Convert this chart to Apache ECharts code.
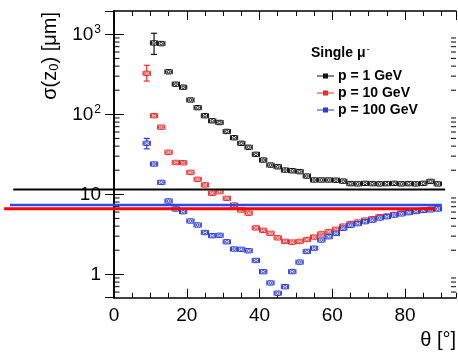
<!DOCTYPE html>
<html><head><meta charset="utf-8">
<script src="https://cdn.jsdelivr.net/npm/echarts@6/dist/echarts.min.js"></script>
<style>html,body{margin:0;padding:0;background:#fff}#c{width:458px;height:353px}</style>
</head><body><div id="c"></div>
<script>
// ---- data ----
const thetaBlack = [11,13,15,17,19,21,23,25,27,29,31,33,35,37,39,41,43,45,47,49,51,53,55,57,59,61,63,65,67,69,71,73,75,77,79,81,83,85,87,89];
const thetaColor = [9,11,13,15,17,19,21,23,25,27,29,31,33,35,37,39,41,43,45,47,49,51,53,55,57,59,61,63,65,67,69,71,73,75,77,79,81,83,85,87,89];
const black1GeV = [780,765,340,238,218,151,121,96,83,79,61,51,43.4,38.7,31.6,26.8,23.2,22.1,20.1,19.7,19.2,16.9,15.1,15.1,15.1,15.0,14.6,13.6,13.5,13.7,13.6,13.5,13.6,13.7,13.5,13.6,13.5,13.7,14.5,13.5];
const red10GeV = [325,96,69,33.5,25,24.8,18.8,15.4,13.1,10.3,10.8,8.9,7.35,6.36,5.8,3.8,3.55,3.25,2.86,2.58,2.52,2.58,2.72,2.92,3.2,3.4,3.65,4.0,4.3,4.5,4.75,4.95,5.25,5.35,5.6,5.85,6.0,6.2,6.35,6.5,6.65];
const blue100GeV = [43.4,23.9,14.1,8.25,6.55,6.06,4.64,4.13,3.33,3.04,3.07,2.55,2.07,2.05,1.97,1.49,1.08,0.78,0.58,0.70,1.08,1.42,1.93,2.12,2.68,2.95,3.25,3.76,4.1,4.3,4.55,4.75,5.05,5.25,5.5,5.7,5.9,6.1,6.3,6.4,6.55];
// vertical error bar [low, high] of the first point of each series
const blackFirstErr = [560, 1030];
const redFirstErr = [260, 410];
const blueFirstErr = [37, 50];
// horizontal reference lines drawn over the figure: [y level, theta start, theta end]
const lineBlack = [11.5, -27.7, 91.0];
const lineBlue = [7.35, -28.6, 90.1];
const lineRed = [6.6, -30.2, 88.2];
const seriesNames = ['p = 1 GeV', 'p = 10 GeV', 'p = 100 GeV'];
const xTicks = [0, 20, 40, 60, 80];
const yMinorTicks = [0.6,0.7,0.8,0.9,2,3,4,5,6,7,8,9,20,30,40,50,60,70,80,90,200,300,400,500,600,700,800,900];

const COL = ['#111111', '#ee2b2b', '#2b3bd6'];
const XMIN = 0, XMAX = 94, YMIN = 0.51, YMAX = 1955;
const G = {left: 114, right: 2, top: 11, bottom: 55.3};
const pxPerDeg = (458 - G.left - G.right) / (XMAX - XMIN);

function build(theta, vals, err) {
  return theta.map((t, i) => i === 0 ? [t, vals[i], err[0], err[1]] : [t, vals[i], null, null]);
}
function render(color) {
  return function (params, api) {
    const x = api.value(0), y = api.value(1);
    const c = api.coord([x, y]);
    const l = api.coord([x - 1, y])[0], r = api.coord([x + 1, y])[0];
    const st = {stroke: color, lineWidth: 1, fill: null};
    const ch = [
      {type: 'line', shape: {x1: l, y1: c[1], x2: r, y2: c[1]}, style: st},
      {type: 'line', shape: {x1: l, y1: c[1] - 2.5, x2: l, y2: c[1] + 2.5}, style: st},
      {type: 'line', shape: {x1: r, y1: c[1] - 2.5, x2: r, y2: c[1] + 2.5}, style: st},
      {type: 'rect', shape: {x: c[0] - 2.6, y: c[1] - 2.2, width: 5.2, height: 4.4}, style: {stroke: color, lineWidth: 1, fill: '#fff'}},
      {type: 'circle', shape: {cx: c[0], cy: c[1], r: 1.3}, style: {stroke: color, lineWidth: 0.9, fill: null}}
    ];
    const lo = api.value(2), hi = api.value(3);
    if (lo != null && !isNaN(lo) && hi != null && !isNaN(hi)) {
      const a = api.coord([x, lo])[1], b = api.coord([x, hi])[1];
      ch.unshift(
        {type: 'line', shape: {x1: c[0], y1: a, x2: c[0], y2: b}, style: {stroke: color, lineWidth: 1.2}},
        {type: 'line', shape: {x1: c[0] - 3, y1: a, x2: c[0] + 3, y2: a}, style: {stroke: color, lineWidth: 1.2}},
        {type: 'line', shape: {x1: c[0] - 3, y1: b, x2: c[0] + 3, y2: b}, style: {stroke: color, lineWidth: 1.2}}
      );
    }
    return {type: 'group', children: ch};
  };
}
function yTickRender(params, api) {
  const v = api.value(0);
  const y = api.coord([XMIN, v])[1];
  const x0 = api.coord([XMIN, v])[0], x1 = api.coord([XMAX, v])[0];
  return {type: 'group', children: [
    {type: 'line', shape: {x1: x0, y1: y, x2: x0 + 5.5, y2: y}, style: {stroke: '#000', lineWidth: 1}},
    {type: 'line', shape: {x1: x1, y1: y, x2: x1 - 5, y2: y}, style: {stroke: '#000', lineWidth: 1}}
  ]};
}
function yLabel(v) {
  const k = Math.round(Math.log10(v));
  if (Math.abs(Math.log10(v) - k) > 1e-6) return '';
  if (k === 0) return '{n|1}';
  if (k === 1) return '{n|10}';
  return '{n|10}{s|' + k + '}';
}
const labelRich = {n: {fontSize: 19, fontFamily: 'Liberation Sans', color: '#000'}, s: {fontSize: 12, fontFamily: 'Liberation Sans', color: '#000', verticalAlign: 'bottom', padding: [0, 0, 9, 1]}};
const axisLine = {show: true, lineStyle: {color: '#000', width: 1.6}};

const chart = echarts.init(document.getElementById('c'), null, {renderer: 'canvas'});
const overlayLeftDeg = XMIN - G.left / pxPerDeg;
const overlayRightDeg = XMAX + G.right / pxPerDeg;
chart.setOption({
  animation: false,
  backgroundColor: '#fff',
  grid: [
    {left: G.left, right: G.right, top: G.top, bottom: G.bottom, show: false},
    {left: 0, right: 0, top: G.top, bottom: G.bottom, show: false}
  ],
  xAxis: [
    {type: 'value', gridIndex: 0, min: XMIN, max: XMAX, interval: 20, position: 'bottom',
     axisLine: axisLine, axisTick: {show: true, inside: true, length: 9, lineStyle: {color: '#000', width: 1}},
     splitLine: {show: false}, axisLabel: {fontSize: 19, fontFamily: 'Liberation Sans', color: '#000', margin: 9, showMaxLabel: false,
       formatter: v => xTicks.indexOf(v) >= 0 ? String(v) : ''}},
    {type: 'value', gridIndex: 0, min: XMIN, max: XMAX, interval: 5, position: 'bottom',
     axisLine: {show: false}, axisTick: {show: true, inside: true, length: 5, lineStyle: {color: '#000', width: 1}},
     splitLine: {show: false}, axisLabel: {show: false}},
    {type: 'value', gridIndex: 0, min: XMIN, max: XMAX, interval: 20, position: 'top',
     axisLine: axisLine, axisTick: {show: true, inside: true, length: 9, lineStyle: {color: '#000', width: 1}},
     splitLine: {show: false}, axisLabel: {show: false}},
    {type: 'value', gridIndex: 0, min: XMIN, max: XMAX, interval: 5, position: 'top',
     axisLine: {show: false}, axisTick: {show: true, inside: true, length: 5, lineStyle: {color: '#000', width: 1}},
     splitLine: {show: false}, axisLabel: {show: false}},
    {type: 'value', gridIndex: 1, min: overlayLeftDeg, max: overlayRightDeg, show: false}
  ],
  yAxis: [
    {type: 'log', gridIndex: 0, min: YMIN, max: YMAX, logBase: 10, position: 'left',
     axisLine: axisLine, axisTick: {show: true, inside: true, length: 10, lineStyle: {color: '#000', width: 1}},
     splitLine: {show: false}, minorTick: {show: false},
     axisLabel: {margin: 13, formatter: yLabel, rich: labelRich, showMinLabel: false, showMaxLabel: false}},
    {type: 'log', gridIndex: 0, min: YMIN, max: YMAX, logBase: 10, position: 'right',
     axisLine: axisLine, axisTick: {show: true, inside: true, length: 9, lineStyle: {color: '#000', width: 1}},
     splitLine: {show: false}, axisLabel: {show: false}},
    {type: 'log', gridIndex: 1, min: YMIN, max: YMAX, logBase: 10, show: false}
  ],
  legend: {
    orient: 'vertical', left: 312, top: 64, itemGap: 3, itemWidth: 17, itemHeight: 7,
    icon: 'path://M0,3H6V1H11V3H17V4H11V6H6V4H0Z',
    textStyle: {fontSize: 14, fontWeight: 'bold', fontFamily: 'Liberation Sans', color: '#000', padding: [0, 0, 0, -1]},
    data: seriesNames
  },
  graphic: [
    {type: 'text', x: 311, y: 53, style: {text: '{a|Single μ}{b|-}', rich: {a: {fontSize: 14, fontWeight: 'bold', fontFamily: 'Liberation Sans', fill: '#000'}, b: {fontSize: 9, fontFamily: 'Liberation Sans', fill: '#000', verticalAlign: 'bottom', padding: [0,0,7,1]}}, verticalAlign: 'middle'}},
    {type: 'text', x: 50, y: 12, rotation: Math.PI / 2, style: {text: '{a|σ(z}{b|0}{a|) [μm]}', rich: {a: {fontSize: 20, fontFamily: 'Liberation Sans', fill: '#000'}, b: {fontSize: 13, fontFamily: 'Liberation Sans', fill: '#000', verticalAlign: 'top', padding: [9, 0, 0, 0]}}, align: 'right', verticalAlign: 'middle'}},
    {type: 'text', x: 456, y: 340, style: {text: 'θ [°]', font: '20px "Liberation Sans"', fill: '#000', align: 'right', verticalAlign: 'middle'}}
  ],
  series: [
    {type: 'custom', name: 'yminor', xAxisIndex: 0, yAxisIndex: 0, data: yMinorTicks.map(v => [v]), encode: {y: 0}, renderItem: yTickRender, silent: true, z: 1},
    {type: 'custom', name: seriesNames[0], xAxisIndex: 0, yAxisIndex: 0, itemStyle: {color: COL[0]}, data: build(thetaBlack, black1GeV, blackFirstErr), encode: {x: 0, y: 1}, renderItem: render(COL[0]), z: 3},
    {type: 'custom', name: seriesNames[1], xAxisIndex: 0, yAxisIndex: 0, itemStyle: {color: COL[1]}, data: build(thetaColor, red10GeV, redFirstErr), encode: {x: 0, y: 1}, renderItem: render(COL[1]), z: 3},
    {type: 'custom', name: seriesNames[2], xAxisIndex: 0, yAxisIndex: 0, itemStyle: {color: COL[2]}, data: build(thetaColor, blue100GeV, blueFirstErr), encode: {x: 0, y: 1}, renderItem: render(COL[2]), z: 4},
    {type: 'line', name: 'refBlack', xAxisIndex: 4, yAxisIndex: 2, data: [[lineBlack[1], lineBlack[0]], [lineBlack[2], lineBlack[0]]], showSymbol: false, lineStyle: {color: '#000', width: 2}, z: 10, silent: true},
    {type: 'line', name: 'refBlue', xAxisIndex: 4, yAxisIndex: 2, data: [[lineBlue[1], lineBlue[0]], [lineBlue[2], lineBlue[0]]], showSymbol: false, lineStyle: {color: '#1f4cff', width: 2.6}, z: 10, silent: true},
    {type: 'line', name: 'refRed', xAxisIndex: 4, yAxisIndex: 2, data: [[lineRed[1], lineRed[0]], [lineRed[2], lineRed[0]]], showSymbol: false, lineStyle: {color: '#ff0000', width: 3}, z: 11, silent: true}
  ]
});
</script></body></html>
